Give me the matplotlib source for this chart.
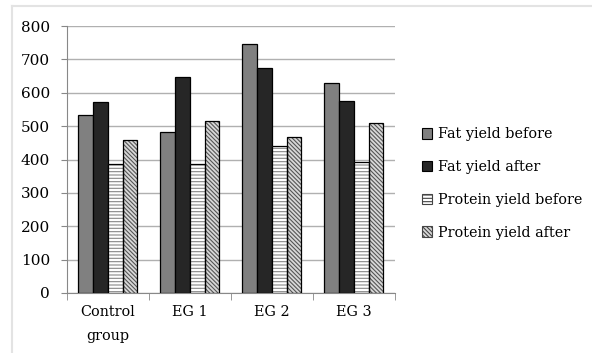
import matplotlib
matplotlib.use("Agg")
import matplotlib.pyplot as plt
import numpy as np
from matplotlib.patches import Patch
from matplotlib.lines import Line2D

categories = ["Control\ngroup", "EG 1", "EG 2", "EG 3"]
series_names = ["Fat yield before", "Fat yield after", "Protein yield before", "Protein yield after"]
fat_before = [533, 482, 745, 629]
fat_after = [573, 648, 674, 576]
protein_before = [388, 388, 442, 394]
protein_after = [458, 517, 467, 511]
yticks = [0, 100, 200, 300, 400, 500, 600, 700, 800]

plt.rcParams['font.family'] = ['DejaVu Serif']
plt.rcParams['hatch.linewidth'] = 0.8

fig = plt.figure(figsize=(5.92, 3.53), dpi=100)
ax = fig.add_axes([0.113, 0.17, 0.554, 0.756])

x = np.arange(len(categories))
w = 0.18
styles = [
    dict(color="#808080", hatch=None, hc=None),
    dict(color="#262626", hatch=None, hc=None),
    dict(color="white", hatch="-----", hc="#888888"),
    dict(color="#d8d8d8", hatch="\\\\\\\\\\\\\\\\", hc="#555555"),
]
data = [fat_before, fat_after, protein_before, protein_after]
handles = []
for i, (vals, st) in enumerate(zip(data, styles)):
    pos = x + (i - 1.5) * w
    if st["hatch"]:
        ax.bar(pos, vals, w, color=st["color"], hatch=st["hatch"], edgecolor=st["hc"], linewidth=0, zorder=3)
        ax.bar(pos, vals, w, fill=False, edgecolor="black", linewidth=0.9, zorder=4)
        handles.append(Patch(facecolor=st["color"], hatch=st["hatch"], edgecolor="#444444", linewidth=0.8))
    else:
        ax.bar(pos, vals, w, color=st["color"], edgecolor="black", linewidth=0.9, zorder=3)
        handles.append(Patch(facecolor=st["color"], edgecolor="black", linewidth=0.8))

fs = 10.4
ax.set_xlim(-0.5, 3.5)
ax.set_ylim(0, 800)
ax.set_yticks(yticks)
ax.set_yticklabels([str(v) for v in yticks], fontsize=11)
ax.yaxis.grid(True, color="#b0b0b0", linewidth=1.0, zorder=0)
ax.set_axisbelow(True)
ax.set_xticks(x)
ax.set_xticklabels(categories, fontsize=fs, linespacing=1.9)
ax.tick_params(axis="x", length=0, pad=9)
ax.set_xticks(np.arange(-0.5, 4.0, 1.0), minor=True)
ax.tick_params(axis="x", which="minor", length=5, color="#888888")
ax.tick_params(axis="y", length=4, color="#888888", pad=8)
for s in ["top", "right"]:
    ax.spines[s].set_visible(False)
ax.spines["left"].set_color("#888888")
ax.spines["bottom"].set_color("#888888")

fig.legend(handles, series_names, loc="center left", bbox_to_anchor=(0.700, 0.48),
           frameon=False, fontsize=fs, handlelength=0.75, handleheight=0.75,
           handletextpad=0.35, labelspacing=1.3, borderpad=0)

fig.add_artist(Line2D([12/592, 1], [1 - 6/353, 1 - 6/353], color="#e3e3e3", linewidth=1.5))
fig.add_artist(Line2D([12/592, 12/592], [0, 1 - 6/353], color="#e3e3e3", linewidth=1.5))

fig.savefig("out.png", dpi=100)
